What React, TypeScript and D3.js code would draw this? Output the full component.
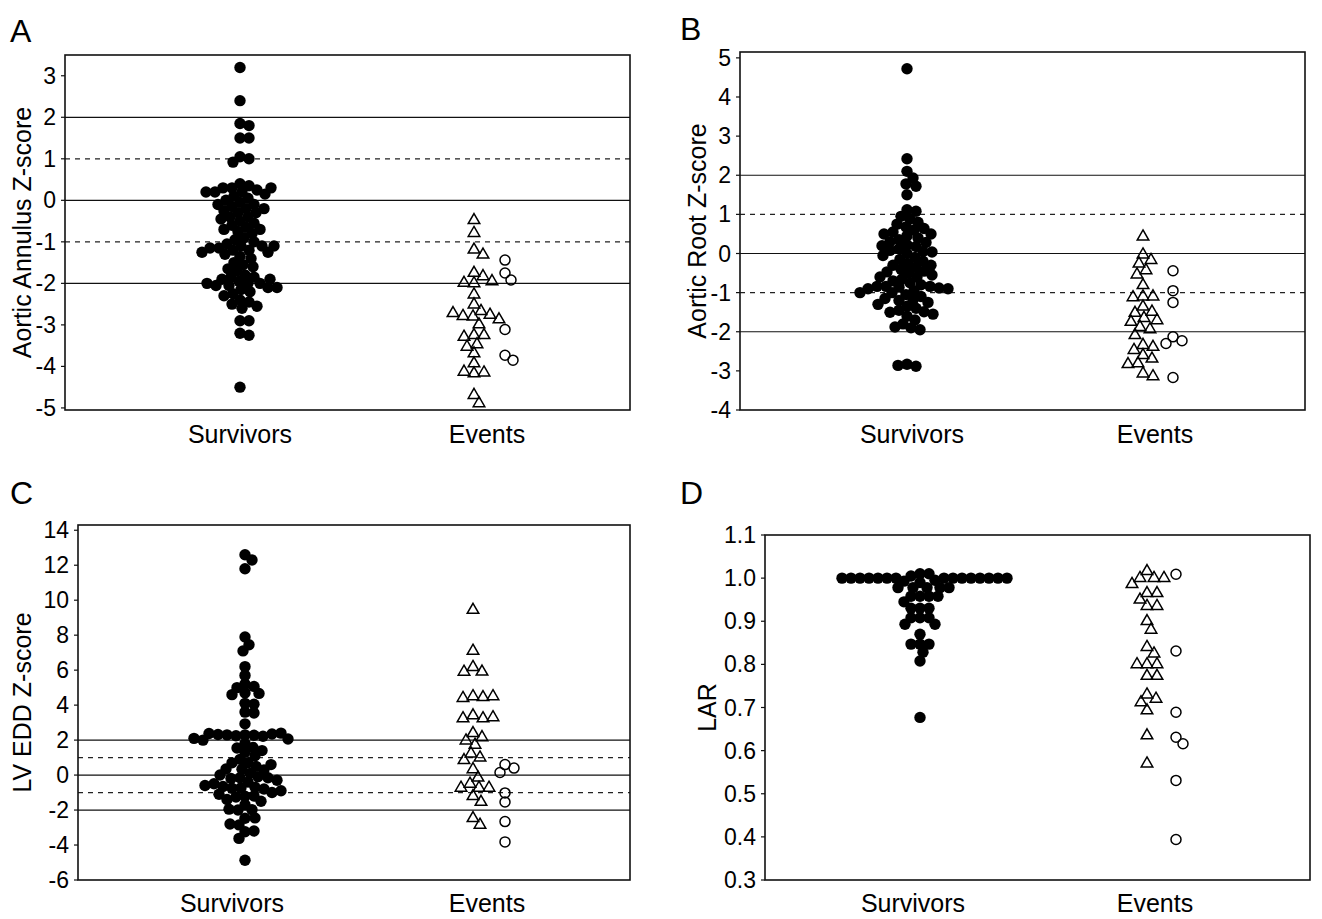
import React from "react";
import * as d3 from "d3";

// ---------------- DATA ----------------
const categories = ["Survivors", "Events"];

// Panel A: Aortic Annulus Z-score
const annulusSurvivors = [
  3.2, 2.4, 1.85, 1.8, 1.5, 1.5, 1.05, 1.0, 0.92,
  0.4, 0.35, 0.3, 0.3, 0.25, 0.2, 0.2, 0.15, 0.1, 0.3, 0.2,
  0.05, 0.0, -0.05, -0.1, -0.15, -0.2, -0.25, -0.3, -0.3, -0.2, -0.1,
  -0.4, -0.4, -0.45, -0.5, -0.55, -0.6, -0.65, -0.7, -0.7, -0.75, -0.8, -0.9, -0.95,
  -1.0, -1.05, -1.1, -1.1, -1.15, -1.15, -1.2, -1.2, -1.25, -1.3, -1.35, -1.4, -1.1, -1.25,
  -1.5, -1.55, -1.6, -1.65, -1.7, -1.8, -1.85, -1.85, -1.9, -1.95,
  -2.0, -2.0, -2.05, -2.05, -2.1, -2.15, -2.2, -2.25, -2.3, -2.4, -2.45, -2.5, -2.55, -2.6,
  -2.0, -1.9, -2.1,
  -2.9, -2.9, -3.2, -3.25, -4.5,
];
const annulusEventsTriangles = [
  -0.48, -0.79, -1.19, -1.31, -1.75, -1.83, -2.0, -1.99, -1.95, -2.27, -2.51, -2.67,
  -2.8, -2.79, -2.76, -2.72, -2.87, -2.99, -3.25, -3.25, -3.29, -3.47, -3.53, -3.69,
  -3.93, -4.17, -4.15, -4.13, -4.69, -4.89,
];
const annulusEventsCircles = [-1.44, -1.75, -1.92, -3.11, -3.73, -3.85];
const annulusTicks = [3, 2, 1, 0, -1, -2, -3, -4, -5];

// Panel B: Aortic Root Z-score
const rootSurvivors = [
  4.72, 2.42, 2.1, 1.93, 1.78, 1.72, 1.5, 1.12, 1.08,
  0.95, 0.88, 0.8, 0.75, 0.68, 0.64, 0.6, 0.55, 0.5, 0.45, 0.4, 0.35, 0.3, 0.28,
  0.22, 0.18, 0.12, 0.08, 0.05, 0.04, 0.0, -0.05, -0.1, -0.15, -0.2, -0.26, -0.3,
  -0.35, -0.4, -0.45, -0.47, -0.5, -0.55, -0.6, -0.65, -0.7, -0.75, -0.8, -0.84,
  -0.84, -0.84, -0.86, -0.88, -0.9, -0.95, -1.0, -1.05, -1.1, -1.15, -1.19, -1.2,
  -1.25, -1.3, -1.35, -1.4, -1.45, -1.49, -1.5, -1.55, -1.6, -1.7, -1.8, -1.88,
  -1.9, -1.95, -0.3, -0.6, -0.9, -1.0, 0.2, 0.5,
  -2.83, -2.88, -2.86,
];
const rootEventsTriangles = [
  0.43, -0.03, -0.17, -0.26, -0.43, -0.54, -0.81, -1.1, -1.1, -1.12, -1.36, -1.49,
  -1.52, -1.65, -1.71, -1.75, -1.88, -1.94, -2.09, -2.34, -2.39, -2.47, -2.6, -2.69,
  -2.81, -2.83, -3.07, -3.14,
];
const rootEventsCircles = [-0.44, -0.95, -1.25, -2.13, -2.23, -2.3, -3.17];
const rootTicks = [5, 4, 3, 2, 1, 0, -1, -2, -3, -4];

// Panel C: LV EDD Z-score
const lvSurvivors = [
  12.6, 12.3, 11.8, 7.9, 7.45, 7.1, 6.2, 5.7, 5.2, 5.07, 5.0, 4.7, 4.67, 4.6,
  4.1, 4.05, 3.6, 3.55, 2.93,
  2.3, 2.28, 2.25, 2.22, 2.3, 2.35, 2.32, 2.4, 2.38,
  2.06, 2.0, 2.1, 1.8, 1.58, 1.55, 1.3, 1.1, 0.9, 0.71, 0.7, 0.5, 0.33, 0.35, 0.3,
  0.1, -0.15, -0.1, -0.2, -0.15, -0.4, -0.73, -0.7, -0.75, -0.8, -0.65,
  -1.0, -1.21, -1.2, -1.25, -1.5, -1.7, -1.98, -2.0, -1.95, -2.47, -2.45,
  0.0, -0.3, -0.5, -0.9, -1.1, 0.6, 1.4, -0.6, -1.4,
  -2.85, -2.8, -3.24, -3.2, -3.62, -4.87,
];
const lvEventsTriangles = [
  9.44, 7.1, 6.17, 5.91, 5.9, 4.5, 4.45, 4.4, 4.5, 3.41, 3.24, 3.24, 3.3, 2.39,
  2.16, 1.97, 1.73, 1.23, 1.0, 0.85, 0.33, -0.15, -0.5, -0.73, -0.73, -0.73,
  -1.21, -1.54, -2.47, -2.85,
];
const lvEventsCircles = [0.6, 0.4, 0.15, -1.02, -1.54, -2.66, -3.82];
const lvTicks = [14, 12, 10, 8, 6, 4, 2, 0, -2, -4, -6];

// Panel D: LAR
const larSurvivors = [
  1.01, 1.01, 1.005, 0.995, 0.993, 0.99,
  1.0, 1.0, 1.0, 1.0, 1.0, 1.0, 1.0, 1.0,
  1.0, 1.0, 1.0, 1.0, 1.0, 1.0, 1.0,
  0.978, 0.978, 0.978, 0.978, 0.978, 0.958, 0.958, 0.958, 0.958, 0.945,
  0.93, 0.93, 0.93, 0.908, 0.908, 0.908, 0.893, 0.893, 0.87,
  0.847, 0.847, 0.847, 0.828, 0.808, 0.677,
];
const larEventsTriangles = [
  1.016, 1.0, 1.0, 1.0, 0.986, 0.965, 0.965, 0.95, 0.935, 0.935, 0.9, 0.88, 0.84,
  0.825, 0.8, 0.8, 0.8, 0.773, 0.773, 0.73, 0.72, 0.712, 0.693, 0.635, 0.57,
];
const larEventsCircles = [1.009, 0.831, 0.689, 0.631, 0.616, 0.531, 0.394];
const larTicks = [1.1, 1.0, 0.9, 0.8, 0.7, 0.6, 0.5, 0.4, 0.3];

const refSolid = [2, 0, -2];
const refDashed = [1, -1];

// ---------------- LAYOUT ----------------
type PanelCfg = {
  letter: string;
  letterX: number;
  letterY: number;
  x0: number; x1: number; y0: number; y1: number;
  domain: [number, number];
  ticks: number[];
  fmt: (d: number) => string;
  yLabel: string;
  yLabelX: number;
  catX: [number, number];
  dataX: [number, number, number];
  catY: number;
  survivors: number[];
  triangles: number[];
  circles: number[];
  refLines: boolean;
};

const intFmt = (d: number) => String(d);
const decFmt = (d: number) => d3.format(".1f")(d);

const panels: PanelCfg[] = [
  {
    letter: "A", letterX: 10, letterY: 42,
    x0: 65, x1: 630, y0: 55, y1: 410,
    domain: [-5.05, 3.5], ticks: annulusTicks, fmt: intFmt,
    yLabel: "Aortic Annulus Z-score", yLabelX: 22,
    catX: [240, 487], dataX: [240, 474, 505], catY: 443,
    survivors: annulusSurvivors, triangles: annulusEventsTriangles, circles: annulusEventsCircles,
    refLines: true,
  },
  {
    letter: "B", letterX: 680, letterY: 40,
    x0: 740, x1: 1305, y0: 52, y1: 410,
    domain: [-4, 5.15], ticks: rootTicks, fmt: intFmt,
    yLabel: "Aortic Root Z-score", yLabelX: 697,
    catX: [912, 1155], dataX: [907, 1143, 1173], catY: 443,
    survivors: rootSurvivors, triangles: rootEventsTriangles, circles: rootEventsCircles,
    refLines: true,
  },
  {
    letter: "C", letterX: 10, letterY: 504,
    x0: 78, x1: 630, y0: 525, y1: 880,
    domain: [-6, 14.3], ticks: lvTicks, fmt: intFmt,
    yLabel: "LV EDD Z-score", yLabelX: 22,
    catX: [232, 487], dataX: [245, 473, 505], catY: 912,
    survivors: lvSurvivors, triangles: lvEventsTriangles, circles: lvEventsCircles,
    refLines: true,
  },
  {
    letter: "D", letterX: 680, letterY: 504,
    x0: 765, x1: 1310, y0: 535, y1: 880,
    domain: [0.3, 1.1], ticks: larTicks, fmt: decFmt,
    yLabel: "LAR", yLabelX: 707,
    catX: [913, 1155], dataX: [920, 1147, 1176], catY: 912,
    survivors: larSurvivors, triangles: larEventsTriangles, circles: larEventsCircles,
    refLines: false,
  },
];

// beeswarm dodge: horizontal offsets so markers at similar values sit side by side
function dodge(values: number[], y: (v: number) => number, diam: number): number[] {
  const placed: { x: number; y: number }[] = [];
  const out: number[] = [];
  values.forEach((v) => {
    const py = y(v);
    let chosen = 0;
    for (let k = 0; k < 600; k++) {
      const off = k === 0 ? 0 : k % 2 === 1 ? Math.ceil(k / 2) : -Math.ceil(k / 2);
      let ok = true;
      for (const p of placed) {
        const dy = p.y - py;
        if (Math.abs(dy) >= diam) continue;
        const dx = p.x - off;
        if (dx * dx + dy * dy < diam * diam) { ok = false; break; }
      }
      if (ok) { chosen = off; break; }
    }
    placed.push({ x: chosen, y: py });
    out.push(chosen);
  });
  return out;
}

const FONT = "'Liberation Sans', Arial, Helvetica, sans-serif";
const triPath = d3.symbol(d3.symbolTriangle, 58)() as string;

function Panel({ p }: { p: PanelCfg }) {
  const y = d3.scaleLinear().domain(p.domain).range([p.y1, p.y0]);
  const x = d3.scaleOrdinal<string, number>().domain(["s", "t", "c"]).range(p.dataX);
  const xCat = d3.scaleOrdinal<string, number>().domain(categories).range(p.catX);
  const sOff = dodge(p.survivors, y, 8.5);
  const tOff = dodge(p.triangles, y, 9.5);
  const cOff = dodge(p.circles, y, 9);
  const midY = (p.y0 + p.y1) / 2;
  return (
    <g>
      <text x={p.letterX} y={p.letterY} fontSize={32} fontFamily={FONT}>{p.letter}</text>
      {p.refLines && refSolid.map((v) => (
        <line key={"s" + v} x1={p.x0} x2={p.x1} y1={y(v)} y2={y(v)} stroke="#111" strokeWidth={1.2} />
      ))}
      {p.refLines && refDashed.map((v) => (
        <line key={"d" + v} x1={p.x0} x2={p.x1} y1={y(v)} y2={y(v)} stroke="#222" strokeWidth={1.2} strokeDasharray="5,5" />
      ))}
      <rect x={p.x0} y={p.y0} width={p.x1 - p.x0} height={p.y1 - p.y0} fill="none" stroke="#111" strokeWidth={1.6} />
      {p.ticks.map((t) => (
        <g key={t}>
          <line x1={p.x0 - 4} x2={p.x0} y1={y(t)} y2={y(t)} stroke="#111" strokeWidth={1.2} />
          <text x={p.x0 - 9} y={y(t)} dy="0.35em" textAnchor="end" fontSize={23} fontFamily={FONT}>{p.fmt(t)}</text>
        </g>
      ))}
      <text transform={`translate(${p.yLabelX},${midY}) rotate(-90)`} textAnchor="middle" dy="0.35em" fontSize={25} fontFamily={FONT}>{p.yLabel}</text>
      {categories.map((c) => (
        <text key={c} x={xCat(c)} y={p.catY} textAnchor="middle" fontSize={25} fontFamily={FONT}>{c}</text>
      ))}
      {p.survivors.map((v, i) => (
        <circle key={"sv" + i} cx={x("s") + sOff[i]} cy={y(v)} r={5.7} fill="#000" />
      ))}
      {p.triangles.map((v, i) => (
        <path key={"tr" + i} d={triPath} transform={`translate(${x("t") + tOff[i]},${y(v)})`} fill="none" stroke="#000" strokeWidth={1.5} />
      ))}
      {p.circles.map((v, i) => (
        <circle key={"ci" + i} cx={x("c") + cOff[i]} cy={y(v)} r={5} fill="none" stroke="#000" strokeWidth={1.5} />
      ))}
    </g>
  );
}

export default function App() {
  return (
    <svg width={1322} height={919} style={{ position: "absolute", left: 0, top: 0, background: "#fff" }}>
      <rect x={0} y={0} width={1322} height={919} fill="#fff" />
      {panels.map((p) => (
        <Panel key={p.letter} p={p} />
      ))}
    </svg>
  );
}
